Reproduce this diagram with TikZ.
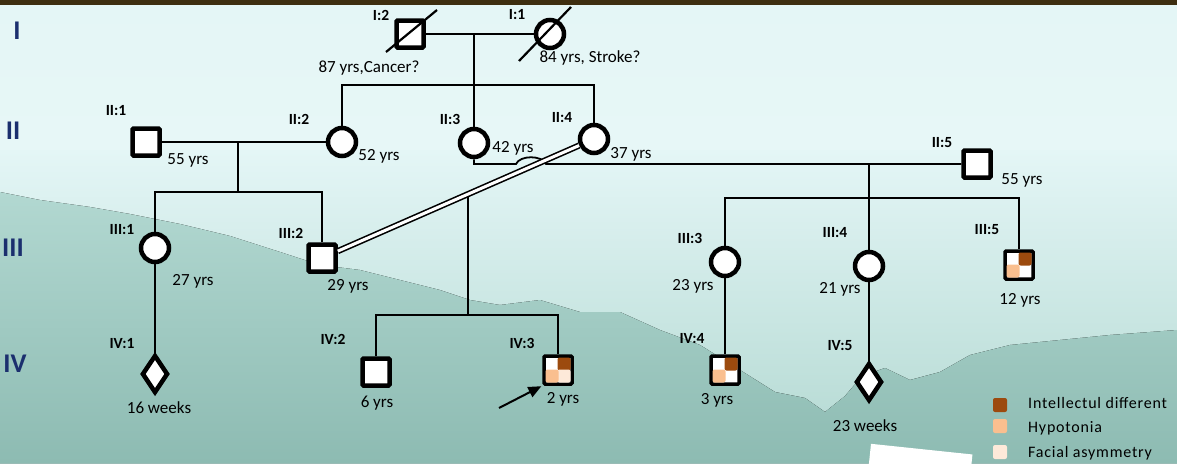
\documentclass[tikz,border=0pt]{standalone}
\usepackage{fontspec}
\setmainfont{Carlito}
\usetikzlibrary{shapes.geometric,arrows.meta,calc}
\definecolor{brn}{HTML}{9C4A0E}
\definecolor{hyp}{HTML}{FABF8F}
\definecolor{fac}{HTML}{FDE9D9}
\definecolor{navy}{HTML}{1B2F6E}
\definecolor{band}{HTML}{3D2E10}
\definecolor{tealA}{HTML}{B2D8D1}
\definecolor{tealB}{HTML}{8DBBB2}
\definecolor{bgTop}{HTML}{E4F6F6}
\definecolor{bgBot}{HTML}{EEF9F8}
\tikzset{
  male/.style={rectangle, draw, line width=4.5pt, minimum size=27pt, inner sep=0pt, fill=white, rounded corners=1pt},
  affm/.style={rectangle, draw, line width=3.5pt, minimum size=28pt, inner sep=0pt, fill=white, rounded corners=1pt},
  female/.style={circle, draw, line width=4.5pt, minimum size=28pt, inner sep=0pt, fill=white},
  unk/.style={diamond, draw, line width=4.5pt, minimum width=26pt, minimum height=38pt, inner sep=0pt, fill=white},
  conn/.style={line width=1.8pt},
  slash/.style={line width=2.2pt},
  lbl/.style={font=\bfseries\fontsize{15.5}{17}\selectfont, inner sep=0pt},
  age/.style={font=\fontsize{17}{19}\selectfont, inner sep=0pt},
  gen/.style={font=\bfseries\fontsize{27}{30}\selectfont, text=navy, inner sep=0pt},
  leg/.style={font=\fontsize{16}{18}\selectfont\addfontfeatures{LetterSpace=5}, inner sep=0pt, anchor=base west},
  legbox/.style={rectangle, rounded corners=2pt, minimum size=14pt, inner sep=0pt},
  quad/.style={rounded corners=2pt}
}
\begin{document}
\begin{tikzpicture}[x=1pt,y=-1pt]
\useasboundingbox (0,0) rectangle (1177,463);
% background
\fill[top color=bgTop, bottom color=bgBot] (0,0) rectangle (1177,463);
\fill[top color=bgTop, bottom color=tealA] (0,150) -- (1177,150) -- (1177,463) -- (0,463) -- cycle;
\fill[top color=tealA, bottom color=tealB] (0,192) -- (40,200) -- (90,207) -- (130,214) -- (180,224) -- (230,236) -- (280,252) -- (320,265) -- (360,270) -- (400,280) -- (440,290) -- (470,300) -- (500,305) -- (540,300) -- (580,312) -- (620,312) -- (660,330) -- (700,345) -- (740,370) -- (775,392) -- (805,398) -- (825,412) -- (845,396) -- (862,376) -- (885,368) -- (910,380) -- (940,372) -- (970,355) -- (1010,345) -- (1060,340) -- (1110,335) -- (1177,330) -- (1177,463) -- (0,463) -- cycle;
\fill[band] (0,0) rectangle (1177,5);
\fill[white, rotate around={-6:(920,456)}] (870,449) rectangle (972,472);

% generation labels
\node[gen] (gI) at (17,31) {I};
\node[gen] (gII) at (13,131) {II};
\node[gen] (gIII) at (13,248) {III};
\node[gen] (gIV) at (15,364) {IV};

% individuals
\node[male] (I2) at (410,34) {};
\node[female] (I1) at (550,34) {};
\node[male] (II1) at (146,142) {};
\node[female] (II2) at (342,142) {};
\node[female] (II3) at (474,143) {};
\node[female] (II4) at (594,139) {};
\node[male] (II5) at (977,164) {};
\node[female] (III1) at (155,248) {};
\node[male] (III2) at (322,258) {};
\node[female] (III3) at (725,262) {};
\node[female] (III4) at (869,266) {};
\node[affm] (III5) at (1019,265) {};
\node[unk] (IV1) at (155,374) {};
\node[male] (IV2) at (376,372) {};
\node[affm] (IV3) at (558,370) {};
\node[affm] (IV4) at (725,370) {};
\node[unk] (IV5) at (869,382) {};

% affected quadrants
\fill[quad, brn] ($(III5.center)+(-0.5,-12.5)$) rectangle ($(III5.center)+(12.5,0.5)$);
\fill[quad, hyp] ($(III5.center)+(-12.5,-0.5)$) rectangle ($(III5.center)+(0.5,12.5)$);
\fill[quad, brn] ($(IV3.center)+(-0.5,-12.5)$) rectangle ($(IV3.center)+(12.5,0.5)$);
\fill[quad, fac] ($(IV3.center)+(-0.5,-0.5)$) rectangle ($(IV3.center)+(12.5,12.5)$);
\fill[quad, hyp] ($(IV3.center)+(-12.5,-0.5)$) rectangle ($(IV3.center)+(0.5,12.5)$);
\fill[quad, brn] ($(IV4.center)+(-0.5,-12.5)$) rectangle ($(IV4.center)+(12.5,0.5)$);
\fill[quad, hyp] ($(IV4.center)+(-12.5,-0.5)$) rectangle ($(IV4.center)+(0.5,12.5)$);

% deceased slashes
\draw[slash] ($(I2.center)+(-24,18)$) -- ($(I2.center)+(27,-24)$);
\draw[slash] ($(I1.center)+(-31,27)$) -- ($(I1.center)+(21,-27)$);

% generation I -> II
\coordinate (m1) at (474,34);
\coordinate (s1) at (474,85);
\draw[conn] (I2.east) -- (I1.west);
\draw[conn] (m1) -- (s1);
\draw[conn] (II2.north) -- (II2.north |- s1) -- (II4.north |- s1) -- (II4.north);
\draw[conn] (s1) -- (II3.north);

% II:1 x II:2
\coordinate (m2) at (238,142);
\coordinate (s2) at (238,192);
\draw[conn] (II1.east) -- (II2.west);
\draw[conn] (m2) -- (s2);
\draw[conn] (III1.north) -- (III1.north |- s2) -- (III2.north |- s2) -- (III2.north);
\draw[conn] (III1.south) -- (IV1.north);

% II:3 x II:5 with hop
\coordinate (hopA) at (516,164);
\coordinate (hopB) at (546,164);
\draw[conn] (II3.south) -- (II3.south |- II5.west) -- (hopA) .. controls (520,155) and (542,155) .. (hopB) -- (II5.west);
\coordinate (m3) at (869,164);
\coordinate (s3) at (869,198);
\draw[conn] (m3) -- (III4.north);
\draw[conn] (III3.north) -- (III3.north |- s3) -- (III5.north |- s3) -- (III5.north);
\draw[conn] (III3.south) -- (IV4.north);
\draw[conn] (III4.south) -- (IV5.north);

% consanguineous union III:2 x II:4
\path (III2.center) -- (II4.center) coordinate[pos=0.537] (m4);
\coordinate (s4) at (468,315);
\draw[conn] (m4) -- (s4);
\draw[conn] (IV2.north) -- (IV2.north |- s4) -- (IV3.north |- s4) -- (IV3.north);
\draw[line width=1.6pt, double=white, double distance=3pt] (III2) -- (II4);

% proband arrow
\coordinate (arT) at (499,408);
\draw[line width=2pt, -{Triangle[length=13pt,width=11pt]}, shorten >=1pt] (arT) -- (IV3.south west);

% ID labels
\node[lbl] (lI2) at (381,15) {I:2};
\node[lbl] (lI1) at (517,15) {I:1};
\node[lbl] (lII1) at (116,111) {II:1};
\node[lbl] (lII2) at (299,119) {II:2};
\node[lbl] (lII3) at (450,119) {II:3};
\node[lbl] (lII4) at (562,118) {II:4};
\node[lbl] (lII5) at (942,143) {II:5};
\node[lbl] (lIII1) at (122,230) {III:1};
\node[lbl] (lIII2) at (291,233) {III:2};
\node[lbl] (lIII3) at (690,238) {III:3};
\node[lbl] (lIII4) at (835,233) {III:4};
\node[lbl] (lIII5) at (987,230) {III:5};
\node[lbl] (lIV1) at (122,344) {IV:1};
\node[lbl] (lIV2) at (333,339) {IV:2};
\node[lbl] (lIV3) at (522,343) {IV:3};
\node[lbl] (lIV4) at (692,339) {IV:4};
\node[lbl] (lIV5) at (840,346) {IV:5};

% ages
\node[age] (aI2) at (369,68) {87 yrs,Cancer?};
\node[age] (aI1) at (590,58) {84 yrs, Stroke?};
\node[age] (aII1) at (188,160) {55 yrs};
\node[age] (aII2) at (379,156) {52 yrs};
\node[age] (aII3) at (513,148) {42 yrs};
\node[age] (aII4) at (631,154) {37 yrs};
\node[age] (aII5) at (1022,180) {55 yrs};
\node[age] (aIII1) at (193,281) {27 yrs};
\node[age] (aIII2) at (348,286) {29 yrs};
\node[age] (aIII3) at (693,286) {23 yrs};
\node[age] (aIII4) at (840,289) {21 yrs};
\node[age] (aIII5) at (1020,300) {12 yrs};
\node[age] (aIV1) at (159,408) {16 weeks};
\node[age] (aIV2) at (377,403) {6 yrs};
\node[age] (aIV3) at (563,399) {2 yrs};
\node[age] (aIV4) at (717,400) {3 yrs};
\node[age] (aIV5) at (865,426) {23 weeks};

% legend
\node[legbox, fill=brn] (L1) at (1000,405) {};
\node[legbox, fill=hyp] (L2) at (1000,426) {};
\node[legbox, fill=fac] (L3) at (1000,452) {};
\node[leg] (T1) at (1028,408) {Intellectul different};
\node[leg] (T2) at (1028,432) {Hypotonia};
\node[leg] (T3) at (1028,457) {Facial asymmetry};
\end{tikzpicture}
\end{document}
